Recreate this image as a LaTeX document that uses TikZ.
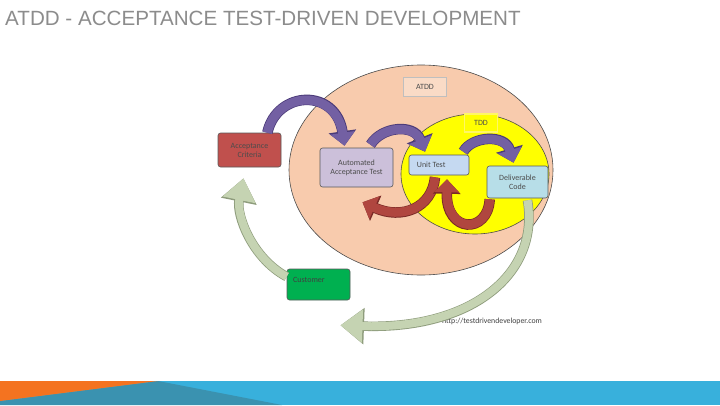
\documentclass[tikz,border=0pt]{standalone}
\usepackage{fontspec}
\setmainfont{Carlito}
\newfontfamily\titlefont{Liberation Sans}
\usetikzlibrary{arrows.meta}
\definecolor{peach}{HTML}{F8CBAD}
\definecolor{ylw}{HTML}{FFFF00}
\definecolor{acred}{HTML}{C0504D}
\definecolor{lav}{HTML}{CCC0DA}
\definecolor{utblue}{HTML}{C5D9F1}
\definecolor{dcblue}{HTML}{B7DEE8}
\definecolor{custgreen}{HTML}{00B050}
\definecolor{purp}{HTML}{7360A3}
\definecolor{purpdark}{HTML}{4A3A78}
\definecolor{redarr}{HTML}{B0463F}
\definecolor{reddark}{HTML}{7A2A26}
\definecolor{sage}{HTML}{C5D3B2}
\definecolor{sagedark}{HTML}{8E9C7C}
\definecolor{bandblue}{HTML}{38B0DC}
\definecolor{bandteal}{HTML}{3A92B0}
\definecolor{bandorange}{HTML}{F47320}
\definecolor{titlegray}{HTML}{8C8C8C}
\begin{document}
\begin{tikzpicture}[x=1pt,y=-1pt,
  box/.style={draw=black!65,line width=0.6pt,rounded corners=2.5pt,font=\fontsize{8}{9}\selectfont,text=black!70,align=center,inner sep=1pt},
  tag/.style={draw=black!25,line width=1.2pt,font=\fontsize{8}{9}\selectfont,text=black!70,inner sep=0pt},
  purparrow/.style={preaction={draw=purpdark,line width=10.5pt,-{Triangle[length=14.5pt,width=27pt]}},purp,line width=9pt,-{Triangle[length=13pt,width=24pt]}},
  redarrow/.style={preaction={draw=reddark,line width=10.5pt,-{Triangle[length=14.5pt,width=27pt]}},redarr,line width=9pt,-{Triangle[length=13pt,width=24pt]}},
  greenarrow/.style={preaction={draw=sagedark,line width=9.5pt,-{Triangle[length=23.5pt,width=35pt]}},sage,line width=8pt,-{Triangle[length=22pt,width=32pt]}},
]
\useasboundingbox (0,0) rectangle (720,405);
\fill[white] (0,0) rectangle (720,405);
% bottom band
\fill[bandblue] (0,381) rectangle (720,405);
\fill[bandteal] (0,401) -- (158,381) -- (282,405) -- (0,405) -- cycle;
\fill[bandorange] (0,381) -- (158,381) -- (0,401) -- cycle;
% title
\node[anchor=west,text=titlegray,inner sep=0pt,font=\titlefont\fontsize{20.6}{22}\selectfont] (title) at (5,18) {ATDD - ACCEPTANCE TEST-DRIVEN DEVELOPMENT};
% ellipses
\draw[fill=peach,draw=black!70,line width=0.6pt] (421,170) ellipse [x radius=132,y radius=105];
\draw[fill=ylw,draw=black!70,line width=0.6pt] (475,174) ellipse [x radius=74,y radius=60];
% tags
\node[tag,fill=peach!70,minimum width=43pt,minimum height=19pt] (atdd) at (425,87) {ATDD};
\node[tag,fill=ylw,draw=yellow!60!white,minimum width=33pt,minimum height=18pt] (tdd) at (481,123) {TDD};
% boxes
\node[box,fill=acred,minimum width=63pt,minimum height=34pt] (ac) at (249.5,150) {Acceptance\\Criteria};
\node[box,fill=lav,minimum width=73pt,minimum height=39pt] (aat) at (356.5,167.5) {Automated\\Acceptance Test};
\node[box,fill=utblue,minimum width=60pt,minimum height=20pt] (ut) at (439,165) {};
\node[anchor=west,font=\fontsize{8}{9}\selectfont,text=black!70,inner sep=0pt] (utt) at ([xshift=8pt]ut.west) {Unit Test};
\node[box,fill=dcblue,minimum width=61pt,minimum height=32pt] (dc) at (517.5,182) {Deliverable\\Code};
\node[box,fill=custgreen,minimum width=63pt,minimum height=31pt] (cu) at (318.5,284.5) {};
\node[anchor=west,font=\fontsize{8}{9}\selectfont,text=black!75,inner sep=0pt] (cut) at (293,280) {Customer};
% url
\node[anchor=west,font=\fontsize{7.8}{9}\selectfont,text=black!75,inner sep=0pt] (url) at (442,321) {http://testdrivendeveloper.com};
% purple arrows
\draw[purparrow] ([xshift=-14pt]ac.north east) .. controls (277,90) and (336,88) .. ([xshift=-12pt,yshift=2pt]aat.north);
\draw[purparrow] ([xshift=14pt,yshift=3pt]aat.north) .. controls (382,126) and (414,124) .. ([xshift=-14pt,yshift=3pt]ut.north);
\draw[purparrow] ([xshift=-6pt,yshift=3pt]ut.north east) .. controls (472,136) and (505,134) .. ([xshift=-4pt,yshift=3pt]dc.north);
% red arrows
\draw[redarrow] ([xshift=-4pt,yshift=-2pt]ut.south) .. controls (432,208) and (402,220) .. ([xshift=6pt,yshift=-15pt]aat.south);
\draw[redarrow] ([xshift=3pt,yshift=-1pt]dc.south west) .. controls (488,234) and (446,234) .. ([xshift=8pt,yshift=-4pt]ut.south);
% green arrows
\draw[greenarrow] ([xshift=10pt,yshift=-2pt]dc.south) .. controls (540,275) and (470,330) .. ([xshift=22pt,yshift=-25pt]cu.south);
\draw[greenarrow] ([yshift=-8pt]cu.north west) .. controls (252,258) and (236,215) .. ([xshift=-6pt,yshift=-11pt]ac.south);
\end{tikzpicture}
\end{document}
